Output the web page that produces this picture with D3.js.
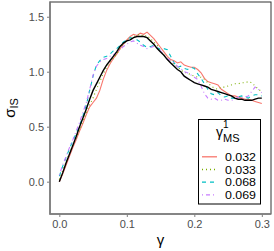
<!DOCTYPE html>
<html>
<head>
<meta charset="utf-8">
<script src="https://cdn.jsdelivr.net/npm/d3@7"></script>
<style>
  body { margin: 0; background: #fff; }
  text { font-family: "Liberation Sans", Arial, sans-serif; }
</style>
</head>
<body>
<svg width="274" height="251"></svg>
<script>
// ---------- data ----------
var gamma = [0, 0.005, 0.01, 0.015, 0.02, 0.025, 0.03, 0.035, 0.04, 0.045,
  0.05, 0.055, 0.06, 0.065, 0.07, 0.075, 0.08, 0.085, 0.09, 0.095,
  0.10, 0.105, 0.11, 0.115, 0.12, 0.125, 0.13, 0.135, 0.14, 0.145,
  0.15, 0.155, 0.16, 0.165, 0.17, 0.175, 0.18, 0.185, 0.19, 0.195,
  0.20, 0.205, 0.21, 0.215, 0.22, 0.225, 0.23, 0.235, 0.24, 0.245,
  0.25, 0.255, 0.26, 0.265, 0.27, 0.275, 0.28, 0.285, 0.29, 0.295, 0.30];

var sigmaRef = [0, 0.08, 0.17, 0.25, 0.33, 0.41, 0.50, 0.58, 0.66, 0.75,
  0.83, 0.89, 0.95, 1.01, 1.06, 1.10, 1.14, 1.18, 1.23, 1.26,
  1.28, 1.29, 1.31, 1.32, 1.32, 1.32, 1.31, 1.28, 1.25, 1.21,
  1.18, 1.15, 1.11, 1.08, 1.05, 1.02, 1.00, 0.96, 0.94, 0.92,
  0.90, 0.89, 0.88, 0.87, 0.86, 0.84, 0.83, 0.82, 0.81, 0.80,
  0.79, 0.78, 0.76, 0.75, 0.75, 0.74, 0.74, 0.74, 0.75, 0.76, 0.76];

var sigma032 = [0, 0.07, 0.15, 0.23, 0.31, 0.38, 0.46, 0.53, 0.61, 0.68,
  0.72, 0.76, 0.83, 0.93, 1.01, 1.07, 1.12, 1.16, 1.21, 1.25,
  1.29, 1.32, 1.34, 1.33, 1.35, 1.34, 1.36, 1.33, 1.30, 1.26,
  1.22, 1.18, 1.14, 1.11, 1.10, 1.08, 1.09, 1.06, 1.05, 1.04,
  1.04, 1.02, 0.99, 0.94, 0.91, 0.90, 0.89, 0.88, 0.84, 0.82,
  0.80, 0.78, 0.78, 0.77, 0.76, 0.75, 0.75, 0.74, 0.73, 0.72, 0.71];

var sigma033 = [0.02, 0.10, 0.18, 0.26, 0.33, 0.40, 0.47, 0.55, 0.63, 0.70,
  0.76, 0.84, 0.91, 0.98, 1.04, 1.09, 1.12, 1.16, 1.21, 1.25,
  1.28, 1.30, 1.32, 1.33, 1.34, 1.32, 1.33, 1.30, 1.27, 1.24,
  1.19, 1.15, 1.12, 1.09, 1.07, 1.04, 1.02, 0.99, 0.99, 0.97,
  0.96, 0.95, 0.95, 0.93, 0.90, 0.87, 0.85, 0.84, 0.86, 0.86,
  0.87, 0.88, 0.89, 0.89, 0.90, 0.90, 0.91, 0.90, 0.87, 0.84, 0.82];

var sigma068 = [0.05, 0.14, 0.22, 0.30, 0.37, 0.44, 0.51, 0.60, 0.70, 0.83,
  0.96, 1.06, 1.10, 1.13, 1.14, 1.16, 1.19, 1.21, 1.24, 1.27,
  1.29, 1.31, 1.30, 1.29, 1.27, 1.24, 1.22, 1.23, 1.24, 1.22,
  1.20, 1.21, 1.20, 1.14, 1.08, 1.04, 1.05, 1.03, 1.02, 1.04,
  1.03, 0.98, 0.94, 0.89, 0.84, 0.80, 0.79, 0.81, 0.78, 0.77,
  0.78, 0.76, 0.76, 0.77, 0.78, 0.77, 0.76, 0.78, 0.79, 0.79, 0.78];

var sigma069 = [0.06, 0.15, 0.23, 0.31, 0.38, 0.46, 0.54, 0.63, 0.72, 0.84,
  0.97, 1.05, 1.09, 1.11, 1.12, 1.14, 1.15, 1.18, 1.20, 1.23,
  1.25, 1.27, 1.28, 1.26, 1.24, 1.23, 1.21, 1.22, 1.23, 1.22,
  1.19, 1.15, 1.12, 1.10, 1.08, 1.05, 1.03, 1.00, 0.99, 0.97,
  0.95, 0.93, 0.87, 0.80, 0.76, 0.75, 0.76, 0.74, 0.74, 0.75,
  0.74, 0.74, 0.75, 0.77, 0.76, 0.77, 0.78, 0.82, 0.86, 0.84, 0.81];

var seriesNames = ["0.032", "0.033", "0.068", "0.069"];
var seriesValues = [sigma032, sigma033, sigma068, sigma069];
var seriesColors = ["#F8766D", "#7CAE00", "#00BFC4", "#C77CFF"];
var seriesDash = ["none", "1,3", "4,4", "1,3,4,3"];

var xTicks = [0.0, 0.1, 0.2, 0.3];
var yTicks = [0.0, 0.5, 1.0, 1.5];

// ---------- layout ----------
var svg = d3.select("svg");
var panel = { left: 50, right: 271, top: 2, bottom: 214 };

var xScale = d3.scaleLinear()
  .domain([-0.0138, 0.3136])
  .range([panel.left, panel.right]);
var yScale = d3.scaleLinear()
  .domain([-0.294, 1.634])
  .range([panel.bottom, panel.top]);

// panel border (top/right dark)
svg.append("rect")
  .attr("x", panel.left)
  .attr("y", panel.top)
  .attr("width", panel.right - panel.left)
  .attr("height", panel.bottom - panel.top)
  .attr("fill", "white")
  .attr("stroke", "#333")
  .attr("stroke-width", 1);

// lines
var line = d3.line()
  .x(function(d) { return xScale(d[0]); })
  .y(function(d) { return yScale(d[1]); });

var plot = svg.append("g");

seriesValues.forEach(function(vals, i) {
  plot.append("path")
    .datum(gamma.map(function(g, j) { return [g, vals[j]]; }))
    .attr("d", line)
    .attr("fill", "none")
    .attr("stroke", seriesColors[i])
    .attr("stroke-width", 1.1)
    .attr("stroke-dasharray", seriesDash[i]);
});

plot.append("path")
  .datum(gamma.map(function(g, j) { return [g, sigmaRef[j]]; }))
  .attr("d", line)
  .attr("fill", "none")
  .attr("stroke", "black")
  .attr("stroke-width", 1.4);

// axes
var xAxis = d3.axisBottom(xScale)
  .tickValues(xTicks)
  .tickSize(3)
  .tickPadding(3)
  .tickFormat(d3.format(".1f"));
var yAxis = d3.axisLeft(yScale)
  .tickValues(yTicks)
  .tickSize(3)
  .tickPadding(3)
  .tickFormat(d3.format(".1f"));

var gx = svg.append("g")
  .attr("transform", "translate(0," + panel.bottom + ")")
  .call(xAxis);
var gy = svg.append("g")
  .attr("transform", "translate(" + panel.left + ",0)")
  .call(yAxis);

[gx, gy].forEach(function(g) {
  g.select(".domain").remove();
  g.selectAll(".tick line").attr("stroke", "#7f7f7f").attr("stroke-width", 1);
  g.selectAll(".tick text")
    .attr("fill", "#4d4d4d")
    .style("font-size", "11px");
});

// gray axis lines on left and bottom
svg.append("line")
  .attr("x1", panel.left).attr("x2", panel.left)
  .attr("y1", panel.top - 0.5).attr("y2", panel.bottom + 0.5)
  .attr("stroke", "#7f7f7f").attr("stroke-width", 1.5);
svg.append("line")
  .attr("x1", panel.left - 0.5).attr("x2", panel.right)
  .attr("y1", panel.bottom).attr("y2", panel.bottom)
  .attr("stroke", "#7f7f7f").attr("stroke-width", 1.5);

// axis titles
svg.append("text")
  .attr("x", (panel.left + panel.right) / 2)
  .attr("y", 245)
  .attr("text-anchor", "middle")
  .style("font-size", "15px")
  .text("γ");

var yt = svg.append("text")
  .attr("transform", "translate(15," + ((panel.top + panel.bottom) / 2) + ") rotate(-90)")
  .attr("text-anchor", "middle")
  .style("font-size", "15px");
yt.append("tspan").text("σ");
yt.append("tspan").attr("dy", 3).style("font-size", "11px").text("IS");

// legend
var legend = svg.append("g");
legend.append("rect")
  .attr("x", 198.5).attr("y", 119.5)
  .attr("width", 62).attr("height", 84.5)
  .attr("fill", "white")
  .attr("stroke", "black")
  .attr("stroke-width", 1);

var lt = legend.append("text")
  .attr("x", 216)
  .attr("y", 137)
  .style("font-size", "14px");
lt.append("tspan").text("γ");
lt.append("tspan").attr("dy", -9).style("font-size", "10px").text("1");
lt.append("tspan").attr("dx", -5.5).attr("dy", 14).style("font-size", "11px").text("MS");

var rows = legend.selectAll("g.row")
  .data(seriesNames)
  .enter()
  .append("g")
  .attr("class", "row")
  .attr("transform", function(d, i) { return "translate(0," + (156.8 + i * 12.7) + ")"; });

rows.append("line")
  .attr("x1", 202).attr("x2", 217)
  .attr("y1", 0).attr("y2", 0)
  .attr("stroke", function(d, i) { return seriesColors[i]; })
  .attr("stroke-width", 1.3)
  .attr("stroke-dasharray", function(d, i) { return seriesDash[i]; });

rows.append("text")
  .attr("x", 225)
  .attr("y", 4)
  .attr("textLength", 31)
  .attr("lengthAdjust", "spacingAndGlyphs")
  .style("font-size", "11px")
  .text(function(d) { return d; });
</script>
</body>
</html>
